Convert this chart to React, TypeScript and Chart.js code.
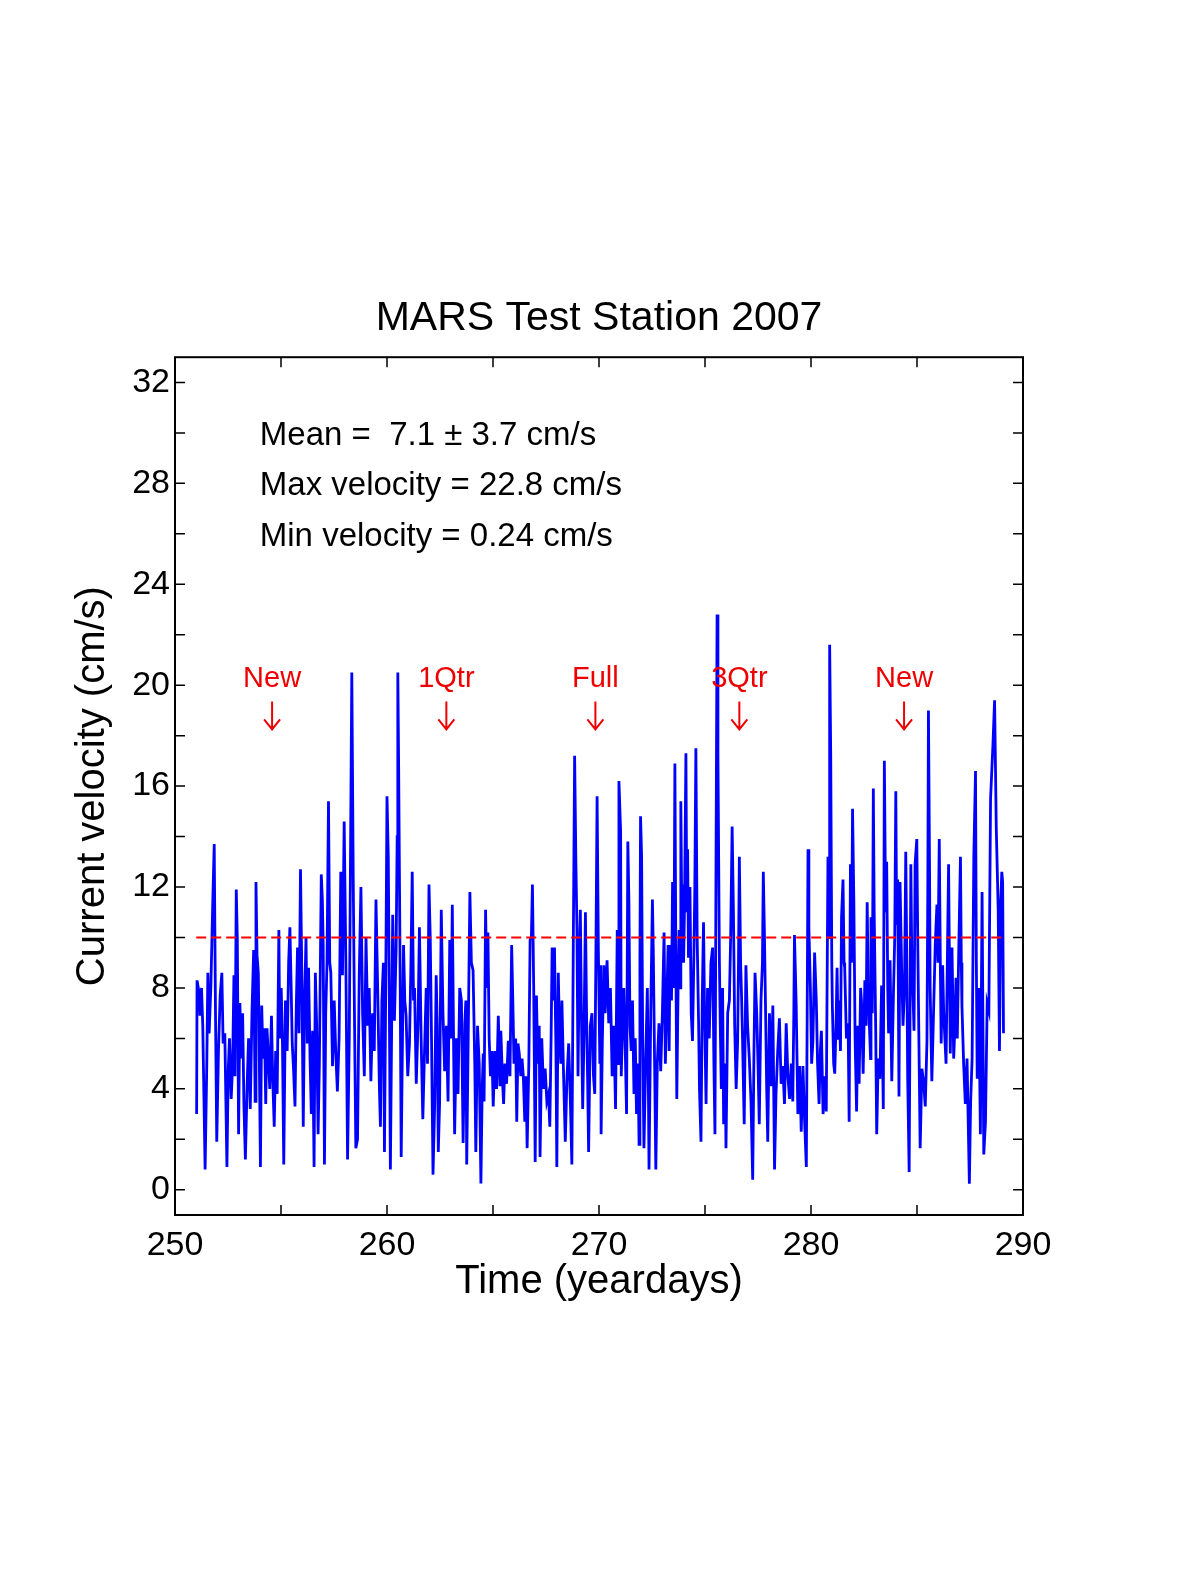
import React, { useEffect, useRef } from 'react';
import { Chart, registerables } from 'chart.js';

Chart.register(...registerables);

const FONT = '"Liberation Sans", Arial, Helvetica, sans-serif';

// Time axis (yeardays) and current speed (cm/s)
const yeardays = [
    251.02, 251.04, 251.12, 251.18, 251.25, 251.31, 251.42, 251.50, 251.55, 251.61,
    251.69, 251.77, 251.85, 251.91, 251.97, 252.05, 252.13, 252.21, 252.27, 252.35,
    252.45, 252.51, 252.57, 252.65, 252.72, 252.78, 252.83, 252.89, 252.94, 253.00,
    253.06, 253.13, 253.19, 253.25, 253.32, 253.40, 253.47, 253.55, 253.63, 253.71,
    253.78, 253.82, 253.87, 253.93, 253.98, 254.03, 254.09, 254.15, 254.22, 254.28,
    254.34, 254.41, 254.47, 254.55, 254.61, 254.68, 254.75, 254.82, 254.90, 254.94,
    255.01, 255.07, 255.13, 255.21, 255.29, 255.36, 255.42, 255.48, 255.53, 255.59,
    255.66, 255.72, 255.78, 255.85, 255.92, 255.99, 256.05, 256.11, 256.18, 256.24,
    256.30, 256.37, 256.43, 256.49, 256.56, 256.62, 256.68, 256.75, 256.81, 256.90,
    256.95, 256.99, 257.05, 257.11, 257.17, 257.24, 257.30,
    257.35, 257.43, 257.51, 257.58, 257.66, 257.74, 257.82, 257.90, 257.98, 258.06,
    258.14, 258.22, 258.30, 258.34, 258.41, 258.47, 258.53, 258.61, 258.69, 258.77,
    258.85, 258.93, 259.01, 259.09, 259.16, 259.24, 259.32, 259.40, 259.48, 259.56,
    259.64, 259.69, 259.76, 259.83, 259.88, 259.94, 260.00, 260.06, 260.11, 260.16,
    260.22, 260.27, 260.35, 260.43, 260.48, 260.51, 260.55, 260.62, 260.67, 260.73,
    260.78, 260.84, 260.90, 260.98, 261.06, 261.12, 261.19, 261.25, 261.30, 261.38,
    261.46, 261.53, 261.61, 261.69, 261.77, 261.85, 261.91, 261.98, 262.04, 262.10,
    262.17, 262.25, 262.32, 262.37, 262.42, 262.48, 262.56, 262.64, 262.72, 262.80,
    262.88, 262.96, 263.02, 263.08, 263.15, 263.19, 263.27, 263.35, 263.43, 263.51,
    263.59, 263.67,
    263.72, 263.76, 263.83, 263.91, 263.98, 264.06, 264.14, 264.19, 264.27, 264.35,
    264.43, 264.49, 264.54, 264.58, 264.65, 264.71, 264.76, 264.82, 264.88, 264.95,
    265.01, 265.09, 265.17, 265.25, 265.33, 265.37, 265.44, 265.50, 265.56, 265.64,
    265.72, 265.80, 265.88, 265.93, 265.99, 266.07, 266.12, 266.18, 266.24, 266.31,
    266.37, 266.43, 266.50, 266.56, 266.61, 266.69, 266.75, 266.81, 266.86, 266.92,
    266.99, 267.05, 267.11, 267.18, 267.22, 267.30, 267.38, 267.46, 267.54, 267.62,
    267.68, 267.74, 267.79, 267.86, 267.90, 267.97, 268.01, 268.08, 268.14, 268.20,
    268.25, 268.33, 268.41, 268.49, 268.57, 268.65, 268.72, 268.79, 268.85, 268.91,
    268.96, 269.01, 269.07, 269.12, 269.17, 269.23, 269.29, 269.36, 269.42, 269.47,
    269.51, 269.59, 269.67, 269.74, 269.80, 269.86, 269.91, 269.97, 270.04, 270.08,
    270.10, 270.16, 270.23, 270.29, 270.38, 270.46, 270.54, 270.62, 270.70, 270.78,
    270.86, 270.91, 270.94, 271.02, 271.05, 271.11, 271.17, 271.24, 271.30, 271.36,
    271.41, 271.46, 271.52, 271.58, 271.65, 271.71, 271.77, 271.84, 271.89, 271.93,
    271.96, 272.01, 272.06, 272.12, 272.20, 272.28, 272.33, 272.36, 272.44, 272.52,
    272.56, 272.63, 272.68, 272.75, 272.83, 272.91, 272.99, 273.07, 273.13, 273.20,
    273.26, 273.31, 273.35, 273.42, 273.47, 273.53, 273.58, 273.62, 273.67, 273.73,
    273.78, 273.83, 273.86, 273.91, 273.94, 273.99, 274.03, 274.10, 274.14, 274.18,
    274.22, 274.29, 274.35, 274.41, 274.48, 274.52, 274.57, 274.63, 274.70, 274.74,
    274.81, 274.87, 274.93, 274.98, 275.05, 275.12, 275.20, 275.28, 275.36, 275.42,
    275.47, 275.52, 275.57, 275.61, 275.68, 275.72, 275.77, 275.83, 275.88, 275.95,
    275.99, 276.07, 276.15, 276.21, 276.28, 276.34, 276.40, 276.47,
    276.54, 276.58, 276.62, 276.68, 276.73, 276.77, 276.85, 276.93, 277.01, 277.09,
    277.17, 277.25, 277.31, 277.36, 277.44, 277.50, 277.56, 277.64, 277.71, 277.75,
    277.80, 277.85, 277.91, 277.96, 278.04, 278.12, 278.20, 278.28, 278.35, 278.43,
    278.51, 278.59, 278.67, 278.75, 278.83, 278.91, 278.99, 279.07, 279.14, 279.19,
    279.22, 279.30, 279.38, 279.46, 279.54, 279.62, 279.70, 279.78, 279.82, 279.86,
    279.90, 279.97, 280.03, 280.09, 280.17, 280.25, 280.31, 280.38, 280.44, 280.49,
    280.57, 280.65, 280.72, 280.80, 280.85, 280.88, 280.93, 280.98, 281.01, 281.07,
    281.12, 281.18, 281.23, 281.28, 281.32, 281.39, 281.44, 281.51, 281.56, 281.59,
    281.67, 281.75, 281.80, 281.86, 281.91, 281.96, 282.02, 282.08, 282.15, 282.21,
    282.27, 282.34, 282.38, 282.46, 282.54, 282.60, 282.65, 282.70, 282.75, 282.81,
    282.83, 282.89, 282.94, 282.98, 283.05, 283.10, 283.17, 283.25, 283.33, 283.41,
    283.46, 283.52, 283.57, 283.62, 283.66, 283.73, 283.81, 283.89, 283.95, 284.00,
    284.04, 284.09, 284.15, 284.20, 284.28, 284.34, 284.41, 284.47, 284.52, 284.56,
    284.63, 284.71, 284.75, 284.86, 284.91, 284.99, 285.04, 285.15, 285.23, 285.31,
    285.39, 285.47, 285.51, 285.54, 285.59, 285.62, 285.70, 285.78, 285.86, 285.94,
    285.99, 286.05, 286.10, 286.14, 286.21, 286.26, 286.37, 286.49, 286.54, 286.57,
    286.65, 286.70, 286.73, 286.79, 286.84, 286.90, 286.97, 287.05, 287.09, 287.12,
    287.20, 287.28, 287.36, 287.47, 287.53, 287.60, 287.68, 287.76, 287.80, 287.84,
    287.91, 287.99, 288.07, 288.15, 288.23, 288.31, 288.39, 288.47, 288.58, 288.66,
    288.74, 288.83, 288.89, 288.95, 289.00, 289.04, 289.08,
];

const velocity = [
    3.0, 8.3, 7.9, 6.9, 8.0, 6.5, 0.8, 5.0, 8.6, 6.2,
    8.0, 11.0, 13.7, 7.0, 1.9, 5.5, 7.7, 8.6, 5.8, 6.2,
    0.9, 4.7, 6.0, 3.6, 5.0, 8.5, 4.5, 11.9, 9.9, 2.2,
    7.4, 5.2, 7.0, 3.4, 1.2, 4.1, 6.0, 3.2, 7.0, 9.5,
    3.5, 12.2, 9.3, 8.6, 5.0, 0.9, 7.3, 5.2, 6.4, 3.4,
    6.4, 5.2, 4.0, 6.9, 4.4, 2.5, 5.5, 3.8, 10.3, 6.0,
    8.0, 5.8, 1.0, 7.5, 5.5, 9.0, 10.4, 8.0, 5.8, 4.8,
    3.3, 7.2, 9.6, 6.2, 12.7, 8.0, 2.5, 7.4, 10.0, 5.8,
    8.8, 5.2, 3.0, 6.3, 0.9, 8.6, 6.6, 2.2, 5.0, 12.5,
    11.5, 9.7, 1.0, 7.0, 9.0, 15.4, 9.0,
    8.6, 4.9, 7.5, 5.5, 3.9, 6.0, 12.6, 8.5, 14.6, 9.0,
    1.2, 6.0, 15.8, 20.5, 12.0, 6.5, 1.65, 2.0, 8.5, 12.0,
    7.0, 4.5, 10.0, 6.5, 8.0, 4.3, 7.0, 5.5, 11.5, 8.0,
    4.1, 2.5, 7.5, 9.0, 1.5, 8.0, 15.6, 13.2, 7.5, 0.8,
    6.5, 10.9, 6.7, 9.5, 14.0, 20.5, 16.7, 8.5, 1.3, 6.0,
    9.7, 7.5, 6.9, 4.5, 5.8, 8.5, 12.6, 7.5, 8.0, 4.2,
    6.5, 10.4, 6.0, 2.8, 5.5, 8.0, 5.0, 12.1, 10.0, 6.0,
    0.6, 3.4, 8.5, 6.5, 1.5, 3.4, 11.1, 7.0, 4.7, 6.5,
    3.5, 9.9, 6.0, 11.3, 5.0, 2.2, 6.0, 3.8, 8.0, 7.5,
    1.85, 6.6,
    7.5, 1.0, 6.0, 11.8, 9.0, 8.7, 5.0, 1.5, 6.5, 5.0,
    0.25, 4.0, 5.4, 3.5, 11.1, 8.0, 10.2, 6.0, 4.5, 5.5,
    3.3, 5.5, 4.0, 6.9, 4.1, 6.3, 4.5, 3.4, 5.0, 4.2,
    5.9, 4.5, 9.7, 7.7, 5.0, 6.0, 2.7, 5.8, 5.4, 4.5,
    5.2, 4.5, 2.7, 4.5, 1.65, 5.0, 9.9, 10.0, 12.1, 8.0,
    1.1, 7.7, 5.0, 6.5, 1.3, 6.0, 4.0, 4.8, 3.5, 3.8,
    2.5, 6.0, 9.6, 7.5, 9.6, 5.5, 0.9, 8.6, 6.0, 5.0,
    7.5, 4.5, 1.9, 4.5, 5.8, 3.5, 1.0, 10.0, 17.2, 13.0,
    10.3, 4.5, 9.0, 11.1, 7.0, 3.2, 6.0, 11.0, 6.5, 4.0,
    1.5, 6.5, 7.0, 4.5, 3.8, 10.0, 15.6, 9.5, 5.0, 8.9,
    2.2, 6.0, 8.9, 7.0, 9.1, 6.6, 8.0, 4.5, 6.5, 3.2,
    10.3, 5.0, 16.2, 14.2, 4.5, 6.5, 8.0, 5.5, 3.0, 13.8,
    11.5, 6.5, 5.5, 7.5, 3.8, 6.0, 3.0, 5.0, 1.8, 9.0,
    14.8, 13.2, 6.0, 1.65, 5.0, 8.0, 4.0, 0.8, 7.0, 11.5,
    9.5, 4.5, 0.8, 5.0, 6.6, 4.7, 7.0, 10.2, 5.0, 7.5,
    9.7, 5.5, 9.7, 7.5, 12.2, 8.0, 16.9, 10.0, 3.6, 8.0,
    10.3, 8.0, 15.4, 10.5, 12.1, 9.0, 11.0, 17.3, 11.0, 13.5,
    9.2, 12.0, 7.0, 5.9, 9.5, 12.0, 17.5, 10.0, 6.5, 4.0,
    1.9, 7.5, 10.6, 7.0, 3.4, 8.0, 6.0, 9.0, 9.6, 5.0,
    2.2, 13.0, 22.8, 17.2, 9.0, 6.5, 4.0, 8.0, 2.6, 5.0,
    1.65, 7.0, 7.5, 10.0, 14.4, 11.1, 6.5, 4.0,
    5.9, 9.0, 13.2, 9.0, 7.5, 6.0, 2.6, 8.9, 6.5, 5.2,
    3.5, 0.4, 5.5, 8.6, 7.0, 5.0, 2.6, 7.5, 9.0, 12.6,
    10.3, 7.5, 4.0, 1.9, 7.0, 4.1, 7.3, 0.8, 3.8, 5.5,
    6.8, 4.2, 4.9, 3.4, 6.6, 4.5, 3.6, 5.0, 3.5, 7.0,
    10.1, 7.4, 3.0, 4.9, 2.3, 4.9, 2.7, 0.9, 7.0, 13.5,
    10.4, 8.0, 5.0, 5.9, 9.4, 7.5, 5.0, 3.4, 5.5, 6.3,
    3.0, 4.5, 3.1, 13.2, 10.0, 21.6, 17.3, 9.0, 7.2, 5.0,
    4.6, 6.5, 8.8, 6.0, 7.5, 5.5, 10.8, 12.3, 9.0, 8.8,
    6.0, 6.6, 2.7, 12.9, 9.0, 15.1, 11.5, 6.0, 3.1, 6.5,
    4.2, 8.0, 7.5, 4.6, 8.3, 6.5, 11.4, 8.0, 6.6, 5.2,
    10.8, 7.0, 15.9, 11.0, 6.5, 2.2, 5.2, 4.4, 8.1, 3.2,
    17.0, 11.0, 13.0, 8.0, 6.2, 9.1, 4.3, 7.8, 10.0, 15.8,
    10.5, 12.3, 3.7, 12.2, 8.6, 6.5, 7.9, 13.4, 9.0, 4.5,
    0.7, 12.9, 9.5, 6.3, 12.9, 13.9, 9.5, 1.65, 4.8, 4.3,
    3.3, 5.9, 12.0, 19.0, 13.0, 8.0, 4.3, 7.0, 9.7, 11.3,
    9.0, 13.9, 9.0, 5.8, 8.9, 7.0, 5.0, 12.9, 8.0, 5.4,
    9.6, 7.0, 5.2, 6.5, 8.4, 6.0, 9.5, 13.2, 9.0, 7.3,
    5.0, 3.4, 5.2, 0.24, 3.5, 5.2, 13.2, 16.6, 9.0, 4.4,
    8.0, 2.2, 11.8, 1.4, 2.7, 7.4, 7.1, 15.5, 17.6, 19.4,
    14.3, 11.1, 5.5, 11.4, 12.6, 12.2, 6.2,
];

// Dashed reference level
const thresholdDays = [251, 289];
const thresholdLevel = 10;

// Moon phases
const phaseDays = [254.58, 262.8, 269.83, 276.62, 284.39];
const phaseNames = ['New', '1Qtr', 'Full', '3Qtr', 'New'];

// Statistics block
const statLines = ['Mean =  7.1 \u00b1 3.7 cm/s', 'Max velocity = 22.8 cm/s', 'Min velocity = 0.24 cm/s'];
const statLevels = [30, 28, 26];
const statDay = 254;

// Axes
const xTickLabels = [250, 260, 270, 280, 290];
const xTickMarks = [250, 255, 260, 265, 270, 275, 280, 285, 290];
const yTickLabels = [0, 4, 8, 12, 16, 20, 24, 28, 32];
const yTickMarks = [0, 2, 4, 6, 8, 10, 12, 14, 16, 18, 20, 22, 24, 26, 28, 30, 32];

const TICK_LEN = 10;

// Draws the boxed frame with inward ticks plus the text annotations
const overlayPlugin = {
    id: 'matlabOverlay',
    afterDraw(chart: any) {
        const { ctx, chartArea } = chart;
        const { left, right, top, bottom } = chartArea;
        const xs = chart.scales.x;
        const ys = chart.scales.y;
        ctx.save();

        ctx.strokeStyle = '#000';
        ctx.lineWidth = 2;
        ctx.strokeRect(left, top, right - left, bottom - top);

        ctx.lineWidth = 1.5;
        ctx.beginPath();
        xTickMarks.forEach((v) => {
            const px = xs.getPixelForValue(v);
            ctx.moveTo(px, bottom);
            ctx.lineTo(px, bottom - TICK_LEN);
            ctx.moveTo(px, top);
            ctx.lineTo(px, top + TICK_LEN);
        });
        yTickMarks.forEach((v) => {
            const py = ys.getPixelForValue(v);
            ctx.moveTo(left, py);
            ctx.lineTo(left + TICK_LEN, py);
            ctx.moveTo(right, py);
            ctx.lineTo(right - TICK_LEN, py);
        });
        ctx.stroke();

        // statistics text
        ctx.fillStyle = '#000';
        ctx.font = `33px ${FONT}`;
        ctx.textAlign = 'left';
        ctx.textBaseline = 'alphabetic';
        statLines.forEach((line, i) => {
            ctx.fillText(line, xs.getPixelForValue(statDay), ys.getPixelForValue(statLevels[i]) + 12);
        });

        // moon phase labels with arrows
        ctx.fillStyle = '#ee0000';
        ctx.strokeStyle = '#ee0000';
        ctx.font = `29px ${FONT}`;
        ctx.textAlign = 'center';
        ctx.lineWidth = 2;
        phaseDays.forEach((d, i) => {
            const px = xs.getPixelForValue(d);
            ctx.fillText(phaseNames[i], px, ys.getPixelForValue(19.93));
            const y0 = ys.getPixelForValue(19.35);
            const y1 = ys.getPixelForValue(18.25);
            ctx.beginPath();
            ctx.moveTo(px, y0);
            ctx.lineTo(px, y1);
            ctx.moveTo(px - 8, y1 - 10);
            ctx.lineTo(px, y1);
            ctx.lineTo(px + 8, y1 - 10);
            ctx.stroke();
        });

        ctx.restore();
    },
};

const App: React.FC = () => {
    const canvasRef = useRef<HTMLCanvasElement>(null);
    const chartRef = useRef<Chart | null>(null);

    useEffect(() => {
        if (!canvasRef.current) return;
        if (chartRef.current) chartRef.current.destroy();

        const series = yeardays.map((t, i) => ({ x: t, y: velocity[i] }));
        const threshold = thresholdDays.map((t) => ({ x: t, y: thresholdLevel }));

        chartRef.current = new Chart(canvasRef.current, {
            type: 'line',
            data: {
                datasets: [
                    {
                        label: 'threshold',
                        data: threshold,
                        borderColor: '#ff0000',
                        borderWidth: 2,
                        borderDash: [10, 5],
                        pointRadius: 0,
                        fill: false,
                    },
                    {
                        label: 'velocity',
                        data: series,
                        borderColor: '#0000ff',
                        borderWidth: 2.8,
                        pointRadius: 0,
                        tension: 0,
                        fill: false,
                    },
                ],
            },
            options: {
                responsive: false,
                animation: false,
                layout: { padding: { top: 294, left: 69, right: 177, bottom: 269 } },
                scales: {
                    x: {
                        type: 'linear',
                        min: 250,
                        max: 290,
                        afterBuildTicks: (scale: any) => {
                            scale.ticks = xTickLabels.map((v) => ({ value: v }));
                        },
                        afterFit: (scale: any) => {
                            scale.height = 91;
                        },
                        grid: { display: false, drawTicks: false },
                        border: { display: false },
                        ticks: {
                            color: '#000',
                            font: { family: FONT, size: 34 },
                            padding: 10,
                            maxRotation: 0,
                            autoSkip: false,
                        },
                        title: {
                            display: true,
                            text: 'Time (yeardays)',
                            color: '#000',
                            font: { family: FONT, size: 40 },
                            padding: 0,
                        },
                    },
                    y: {
                        type: 'linear',
                        min: -1,
                        max: 33,
                        afterBuildTicks: (scale: any) => {
                            scale.ticks = yTickLabels.map((v) => ({ value: v }));
                        },
                        afterFit: (scale: any) => {
                            scale.width = 106;
                        },
                        grid: { display: false, drawTicks: false },
                        border: { display: false },
                        ticks: {
                            color: '#000',
                            font: { family: FONT, size: 34 },
                            padding: 5,
                            autoSkip: false,
                        },
                        title: {
                            display: true,
                            text: 'Current velocity (cm/s)',
                            color: '#000',
                            font: { family: FONT, size: 40 },
                            padding: 0,
                        },
                    },
                },
                plugins: {
                    legend: { display: false },
                    tooltip: { enabled: false },
                    title: {
                        display: true,
                        fullSize: false,
                        text: 'MARS Test Station 2007',
                        color: '#000',
                        font: { family: FONT, size: 41, weight: 'normal' },
                        padding: { top: 0, bottom: 14 },
                    },
                },
            },
            plugins: [overlayPlugin],
        });

        return () => {
            if (chartRef.current) {
                chartRef.current.destroy();
                chartRef.current = null;
            }
        };
    }, []);

    return (
        <div style={{ position: 'absolute', left: 0, top: 0, width: 1200, height: 1575, background: '#fff' }}>
            <canvas ref={canvasRef} width={1200} height={1575} style={{ display: 'block' }} />
        </div>
    );
};

export default App;
